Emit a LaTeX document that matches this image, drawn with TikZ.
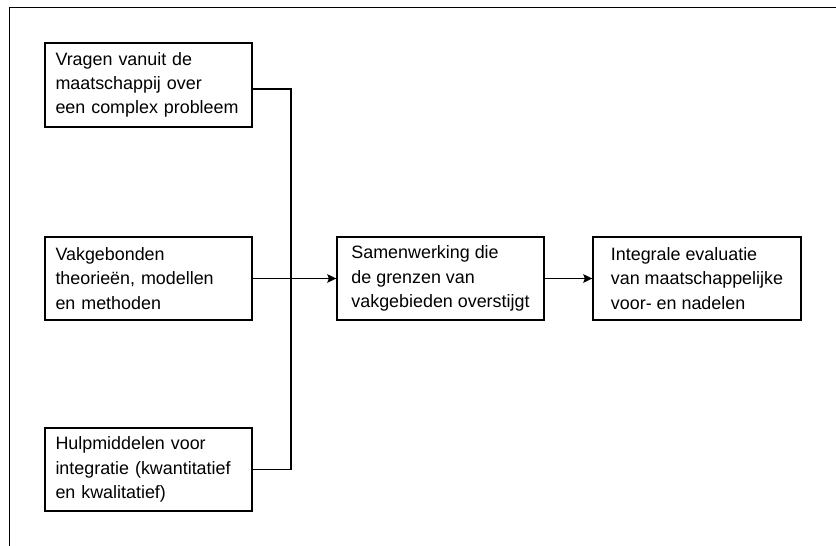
\documentclass[tikz,border=0pt]{standalone}
\usepackage{fontspec}
\setmainfont{Liberation Sans}
\usetikzlibrary{arrows.meta}
\tikzset{
  base/.style={draw, line width=1.4pt, minimum height=83pt, minimum width=207pt,
    font=\fontsize{17.9}{24.2}\selectfont, inner ysep=0pt},
  leftbox/.style={base, text width=186pt, inner xsep=10.5pt, align=left},
  midbox/.style={base, align=left, inner xsep=0pt},
  conn/.style={line width=1.4pt, line join=miter},
  arr/.style={conn, -{Stealth[length=9pt,width=8.5pt,inset=1.5pt]}}
}
\begin{document}
\begin{tikzpicture}[x=1pt,y=-1pt]
\useasboundingbox (0,0) rectangle (836,546);
% frame
\draw[line width=1.6pt, line join=miter] (836,7.5) -- (9.5,7.5) -- (9.5,546);
% nodes
\node[leftbox, minimum height=84pt] (b1) at (148.5,85) {Vragen vanuit de\\maatschappij over\\een complex probleem};
\node[leftbox] (b2) at (148.5,278.5) {Vakgebonden\\theorieën, modellen\\en methoden};
\node[leftbox] (b3) at (148.5,469.5) {Hulpmiddelen voor\\integratie (kwantitatief\\en kwalitatief)};
\node[midbox] (b4) at (440.5,278.5) {Samenwerking die\\de grenzen van\\vakgebieden overstijgt};
\node[midbox, minimum width=208pt] (b5) at (697,278.5) {Integrale evaluatie\\van maatschappelijke\\voor- en nadelen};
% connectors
\coordinate (jx) at (291,0);
\draw[conn] ([yshift=-4pt]b1.east) -| (jx |- b3.east) -- (b3.east);
\draw[arr] (b2.east) -- (b4.west);
\draw[arr] (b4.east) -- (b5.west);
\end{tikzpicture}
\end{document}
